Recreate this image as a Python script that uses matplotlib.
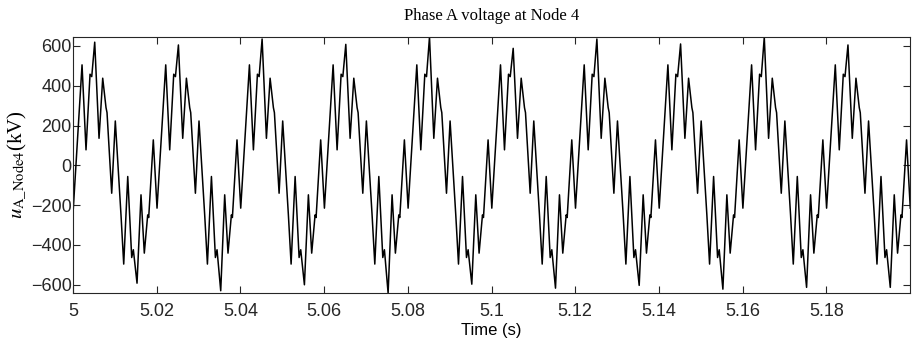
import numpy as np
import matplotlib
matplotlib.use("Agg")
import matplotlib.pyplot as plt

# one 50 Hz cycle of the waveform (turning points)
cycle_ms = [0.07, 1.27, 2.15, 3.10, 4.06, 4.47, 5.18, 6.21, 7.09, 7.88, 8.12,
            9.24, 10.10, 11.46, 12.11, 13.07, 14.02, 14.41, 15.29, 16.24,
            17.03, 17.84, 18.08, 19.18]
cycle_kv = [-215, 203, 505, 78, 458, 446, 619, 136, 438, 290, 265,
            -140, 223, -249, -496, -56, -463, -424, -592, -148,
            -441, -249, -262, 128]

# main peak / trough of each cycle (they wander a little)
cycle_peak = [619, 605, 635, 608, 645, 588, 635, 610, 644, 605]
cycle_trough = [-592, -630, -600, -642, -597, -617, -603, -622, -613, -613]

t0 = 5.0
period = 0.02
xticks = [5, 5.02, 5.04, 5.06, 5.08, 5.1, 5.12, 5.14, 5.16, 5.18]
xticklabels = ['5', '5.02', '5.04', '5.06', '5.08', '5.1', '5.12', '5.14', '5.16', '5.18']
yticks = [-600, -400, -200, 0, 200, 400, 600]

t = []
u = []
for k in range(len(cycle_peak)):
    vals = list(cycle_kv)
    vals[6] = cycle_peak[k]
    vals[18] = cycle_trough[k]
    t += [t0 + k * period + ms / 1000 for ms in cycle_ms]
    u += vals
t.append(t0 + len(cycle_peak) * period + cycle_ms[0] / 1000)
u.append(cycle_kv[0])

plt.rcParams['mathtext.fontset'] = 'stix'

fig = plt.figure(figsize=(9.13, 3.61), dpi=100)
ax = fig.add_axes([0.080, 0.188, 0.9167, 0.7095])
ax.plot(t, u, color='black', lw=1.1, solid_joinstyle='round')

ax.set_xlim(5, 5.2)
ax.set_ylim(-642, 645)
ax.set_xticks(xticks)
ax.set_xticklabels(xticklabels)
ax.set_yticks(yticks)
ax.tick_params(direction='in', top=True, right=True, length=5, width=0.8,
               labelsize=13, colors='#262626')
ax.tick_params(axis='x', pad=7)
ax.tick_params(axis='y', pad=1)
for lab in ax.get_xticklabels() + ax.get_yticklabels():
    lab.set_family('Liberation Sans')
for s in ax.spines.values():
    s.set_color('#262626')
    s.set_linewidth(0.8)

ax.set_title('Phase A voltage at Node 4', family='Liberation Serif', fontsize=12, pad=12)
ax.set_xlabel('Time (s)', family='Liberation Sans', fontsize=12, labelpad=2)
ax.set_ylabel(r'$u_{\mathrm{A\_Node4}}$(kV)', family='Liberation Serif', fontsize=15, labelpad=2)

fig.savefig('out.png', dpi=100)
